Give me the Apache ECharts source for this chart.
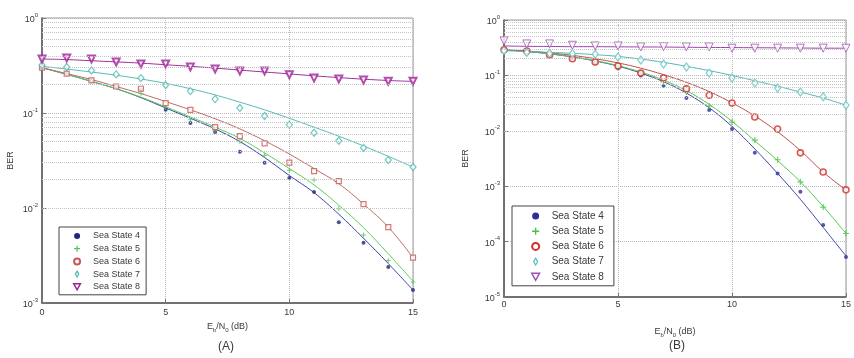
<!DOCTYPE html>
<html>
<head>
<meta charset="utf-8">
<script src="https://cdn.jsdelivr.net/npm/echarts@6/dist/echarts.min.js"></script>
<style>
  html, body { margin: 0; padding: 0; background: #fff; }
  #chart { width: 854px; height: 358px; }
</style>
</head>
<body>
<div id="chart"></div>
<script>
// Eb/N0 (dB), same for both panels
const ebn0 = [0, 1, 2, 3, 4, 5, 6, 7, 8, 9, 10, 11, 12, 13, 14, 15];
const seaStates = ['Sea State 4', 'Sea State 5', 'Sea State 6', 'Sea State 7', 'Sea State 8'];

// panel (A) - simulated points (markers)
const berA4 = [0.30, 0.26, 0.217, 0.19, 0.175, 0.108, 0.0785, 0.063, 0.039, 0.030, 0.0207, 0.0147, 0.0071, 0.0043, 0.0024, 0.00137];
const berA5 = [0.30, 0.26, 0.22, 0.19, 0.16, 0.115, 0.085, 0.066, 0.05, 0.036, 0.025, 0.0197, 0.0098, 0.0052, 0.0028, 0.00166];
const berA6 = [0.30, 0.26, 0.22, 0.19, 0.18, 0.127, 0.108, 0.071, 0.057, 0.048, 0.030, 0.0245, 0.0192, 0.011, 0.0063, 0.003];
const berA7 = [0.32, 0.305, 0.28, 0.255, 0.233, 0.197, 0.17, 0.14, 0.113, 0.093, 0.075, 0.062, 0.051, 0.043, 0.032, 0.027];
const berA8 = [0.37, 0.38, 0.37, 0.344, 0.328, 0.328, 0.305, 0.29, 0.277, 0.277, 0.253, 0.233, 0.228, 0.222, 0.216, 0.216];
// panel (A) - fitted curves (lines)
const fitA4 = [0.30, 0.255, 0.215, 0.18, 0.145, 0.113, 0.088, 0.068, 0.05, 0.034, 0.022, 0.0145, 0.0086, 0.0048, 0.0026, 0.00137];
const fitA5 = [0.30, 0.255, 0.215, 0.18, 0.147, 0.116, 0.091, 0.071, 0.054, 0.038, 0.026, 0.0175, 0.0107, 0.0062, 0.0033, 0.0017];
const fitA6 = [0.30, 0.26, 0.225, 0.19, 0.16, 0.132, 0.108, 0.087, 0.068, 0.051, 0.037, 0.026, 0.018, 0.011, 0.0063, 0.003];
const fitA7 = [0.31, 0.29, 0.27, 0.25, 0.228, 0.205, 0.18, 0.155, 0.13, 0.108, 0.088, 0.071, 0.057, 0.045, 0.035, 0.027];
const fitA8 = [0.37, 0.365, 0.355, 0.345, 0.335, 0.322, 0.31, 0.297, 0.283, 0.27, 0.258, 0.246, 0.236, 0.227, 0.22, 0.215];

// panel (B) - simulated points
const berB4 = [0.29, 0.27, 0.235, 0.2, 0.165, 0.135, 0.1, 0.065, 0.039, 0.0237, 0.0108, 0.004, 0.0017, 0.00079, 0.0002, 0.000053];
const berB5 = [0.29, 0.27, 0.24, 0.21, 0.18, 0.145, 0.11, 0.076, 0.05, 0.028, 0.0144, 0.0068, 0.003, 0.0012, 0.00042, 0.00014];
const berB6 = [0.29, 0.275, 0.233, 0.2, 0.175, 0.148, 0.11, 0.09, 0.057, 0.044, 0.0318, 0.0177, 0.0108, 0.004, 0.0018, 0.00086];
const berB7 = [0.28, 0.26, 0.25, 0.245, 0.24, 0.215, 0.19, 0.16, 0.142, 0.11, 0.09, 0.073, 0.059, 0.05, 0.041, 0.029];
const berB8 = [0.42, 0.37, 0.37, 0.35, 0.34, 0.34, 0.326, 0.33, 0.326, 0.326, 0.31, 0.31, 0.31, 0.31, 0.31, 0.31];
// panel (B) - fitted curves
const fitB4 = [0.29, 0.27, 0.245, 0.215, 0.182, 0.147, 0.11, 0.077, 0.048, 0.026, 0.012, 0.0047, 0.0017, 0.00058, 0.00018, 0.000055];
const fitB5 = [0.29, 0.27, 0.245, 0.217, 0.185, 0.15, 0.115, 0.082, 0.053, 0.03, 0.0148, 0.0066, 0.0029, 0.0012, 0.00043, 0.00014];
const fitB6 = [0.29, 0.275, 0.255, 0.23, 0.2, 0.168, 0.135, 0.103, 0.075, 0.051, 0.032, 0.0185, 0.0096, 0.0044, 0.0018, 0.00085];
const fitB7 = [0.28, 0.27, 0.26, 0.25, 0.237, 0.22, 0.197, 0.172, 0.146, 0.122, 0.1, 0.08, 0.064, 0.05, 0.039, 0.029];
const fitB8 = [0.34, 0.335, 0.333, 0.33, 0.33, 0.328, 0.326, 0.325, 0.322, 0.32, 0.318, 0.316, 0.314, 0.312, 0.31, 0.31];

const FONT = '"Liberation Sans", Arial, sans-serif';
const TXT = '#3a3a3a';

const plusPath = 'path://M4,0H6V4H10V6H6V10H4V6H0V4H4Z';
const triDown = 'path://M0,0L10,0L5,9Z';
const diamondPath = 'path://M5,0L9,7L5,14L1,7Z';

// minor log grid lines (2..9 x 10^k)
function minorLines(lo, hi) {
    const out = [];
    for (let k = lo; k < hi; k++) {
        for (let m = 2; m <= 9; m++) out.push({ yAxis: m * Math.pow(10, k) });
    }
    return out;
}

function pairs(ys) {
    return ebn0.map((x, i) => [x, ys[i]]);
}

function fitLine(name, ys, gi, color) {
    return {
        name: name, type: 'line', xAxisIndex: gi, yAxisIndex: gi,
        data: pairs(ys), smooth: 0.4, symbol: 'none', z: 2,
        lineStyle: { color: color, width: 1 },
        emphasis: { disabled: true }
    };
}

function marks(name, ys, gi, symbol, size, itemStyle) {
    return {
        name: name, type: 'scatter', xAxisIndex: gi, yAxisIndex: gi,
        data: pairs(ys), symbol: symbol, symbolSize: size, z: 3,
        itemStyle: itemStyle,
        emphasis: { disabled: true }
    };
}

const supRich = {
    b: { fontSize: 9, fontFamily: FONT, color: TXT, lineHeight: 12, verticalAlign: 'bottom' },
    s: { fontSize: 6, fontFamily: FONT, color: TXT, lineHeight: 12, verticalAlign: 'top' }
};

function xAx(gi, gap, margin) {
    return {
        type: 'value', gridIndex: gi, min: 0, max: 15, interval: 5,
        name: '{n|E}{sub|b}{n|/N}{sub|0}{n| (dB)}',
        nameLocation: 'middle', nameGap: gap,
        nameTextStyle: {
            rich: {
                n: { fontSize: 9, fontFamily: FONT, color: TXT, lineHeight: 11, verticalAlign: 'top' },
                sub: { fontSize: 6, fontFamily: FONT, color: TXT, lineHeight: 11, verticalAlign: 'bottom' }
            }
        },
        axisLine: { show: true, lineStyle: { color: '#555', width: 1.5 } },
        axisTick: { show: true, inside: true, length: 4, lineStyle: { color: '#777' } },
        axisLabel: { color: TXT, fontFamily: FONT, fontSize: 9, margin: margin },
        splitLine: { show: true, lineStyle: { type: 'dotted', color: '#b8b8b8', width: 1 } }
    };
}

function yAx(gi, min, gap) {
    return {
        type: 'log', gridIndex: gi, logBase: 10, min: min, max: 1,
        name: 'BER', nameLocation: 'middle', nameGap: gap,
        nameTextStyle: { fontSize: 9, fontFamily: FONT, color: TXT },
        axisLine: { show: true, lineStyle: { color: '#555', width: 1.5 } },
        axisTick: { show: true, inside: true, length: 4, lineStyle: { color: '#777' } },
        axisLabel: {
            margin: 4, color: TXT, fontFamily: FONT, fontSize: 9,
            formatter: function (v) {
                return '{b|10}{s|' + Math.round(Math.log10(v)) + '}';
            },
            rich: supRich
        },
        splitLine: { show: true, lineStyle: { type: 'dotted', color: '#b8b8b8', width: 1 } }
    };
}

const colA = { s4: '#1d2580', s5: '#55c255', s6: '#c45a55', s7: '#4fb8b0', s8: '#a0209a' };
const colB = { s4: '#2a2f9a', s5: '#45c545', s6: '#d0302a', s7: '#5cc0c0', s8: '#a050b0' };

const seriesA = [
    fitLine(seaStates[0], fitA4, 0, '#3b45a5'),
    fitLine(seaStates[1], fitA5, 0, '#5ccc5c'),
    fitLine(seaStates[2], fitA6, 0, '#c06a66'),
    fitLine(seaStates[3], fitA7, 0, '#55bdb5'),
    fitLine(seaStates[4], fitA8, 0, '#a0309a'),
    marks(seaStates[0], berA4, 0, 'circle', 4, { color: colA.s4 }),
    marks(seaStates[1], berA5, 0, plusPath, 5, { color: colA.s5 }),
    marks(seaStates[2], berA6, 0, 'rect', 5, { color: '#fff', borderColor: colA.s6, borderWidth: 1.2 }),
    marks(seaStates[3], berA7, 0, diamondPath, [6, 7], { color: '#fff', borderColor: colA.s7, borderWidth: 1.2 }),
    marks(seaStates[4], berA8, 0, triDown, 7, { color: '#fff', borderColor: colA.s8, borderWidth: 2 })
];
seriesA[4].markLine = {
    silent: true, symbol: ['none', 'none'], label: { show: false }, animation: false,
    lineStyle: { type: 'dotted', color: '#c4c4c4', width: 1 },
    data: minorLines(-3, 0)
};

const seriesB = [
    fitLine(seaStates[0], fitB4, 1, '#4048a8'),
    fitLine(seaStates[1], fitB5, 1, '#55c855'),
    fitLine(seaStates[2], fitB6, 1, '#c0504a'),
    fitLine(seaStates[3], fitB7, 1, '#55b8b8'),
    fitLine(seaStates[4], fitB8, 1, '#a040b0'),
    marks(seaStates[0], berB4, 1, 'circle', 4, { color: colB.s4 }),
    marks(seaStates[1], berB5, 1, plusPath, 6, { color: colB.s5 }),
    marks(seaStates[2], berB6, 1, 'circle', 6, { color: '#fff', borderColor: colB.s6, borderWidth: 1.6 }),
    marks(seaStates[3], berB7, 1, diamondPath, [6, 8], { color: '#fff', borderColor: colB.s7, borderWidth: 1.2 }),
    marks(seaStates[4], berB8, 1, triDown, 8, { color: '#fff', borderColor: colB.s8, borderWidth: 1 })
];
seriesB[4].markLine = {
    silent: true, symbol: ['none', 'none'], label: { show: false }, animation: false,
    lineStyle: { type: 'dotted', color: '#c4c4c4', width: 1 },
    data: minorLines(-5, 0)
};

function legendData(col) {
    return [
        { name: seaStates[0], icon: 'circle', itemStyle: { color: col.s4, borderWidth: 0 } },
        { name: seaStates[1], icon: plusPath, itemStyle: { color: col.s5, borderWidth: 0 } },
        { name: seaStates[2], icon: 'emptyCircle', itemStyle: { color: col.s6 } },
        { name: seaStates[3], icon: diamondPath, itemStyle: { color: '#fff', borderColor: col.s7, borderWidth: 1.2 } },
        { name: seaStates[4], icon: triDown, itemStyle: { color: '#fff', borderColor: col.s8, borderWidth: 1.5 } }
    ];
}

const chart = echarts.init(document.getElementById('chart'));
chart.setOption({
    animation: false,
    backgroundColor: '#fff',
    textStyle: { fontFamily: FONT },
    grid: [
        { left: 42, top: 18, width: 371, height: 285, show: true, borderColor: '#9a9a9a', borderWidth: 1 },
        { left: 504, top: 20, width: 349, height: 277, show: true, borderColor: '#9a9a9a', borderWidth: 1 }
    ],
    xAxis: [xAx(0, 13, 5), xAx(1, 30, 3)],
    yAxis: [yAx(0, 0.001, 27), yAx(1, 0.00001, 34)],
    legend: [
        {
            orient: 'vertical', left: 59, top: 227, selectedMode: false,
            backgroundColor: '#fff', borderColor: '#444', borderWidth: 1, borderRadius: 0,
            padding: [4, 6, 3, 14], itemGap: 2.7, itemWidth: 22, itemHeight: 6,
            textStyle: { fontSize: 9, fontFamily: FONT, color: TXT, lineHeight: 10 },
            data: legendData(colA)
        },
        {
            orient: 'vertical', left: 512, top: 206, selectedMode: false,
            backgroundColor: '#fff', borderColor: '#444', borderWidth: 1, borderRadius: 0,
            padding: [4, 10, 3, 19], itemGap: 3.2, itemWidth: 22, itemHeight: 7,
            textStyle: { fontSize: 10, fontFamily: FONT, color: TXT, lineHeight: 12 },
            data: legendData(colB)
        }
    ],
    graphic: [
        { type: 'text', left: 218, top: 341, style: { text: '(A)', fontSize: 12, fontFamily: FONT, fill: TXT } },
        { type: 'text', left: 669, top: 340, style: { text: '(B)', fontSize: 12, fontFamily: FONT, fill: TXT } }
    ],
    series: seriesA.concat(seriesB)
});
</script>
</body>
</html>
